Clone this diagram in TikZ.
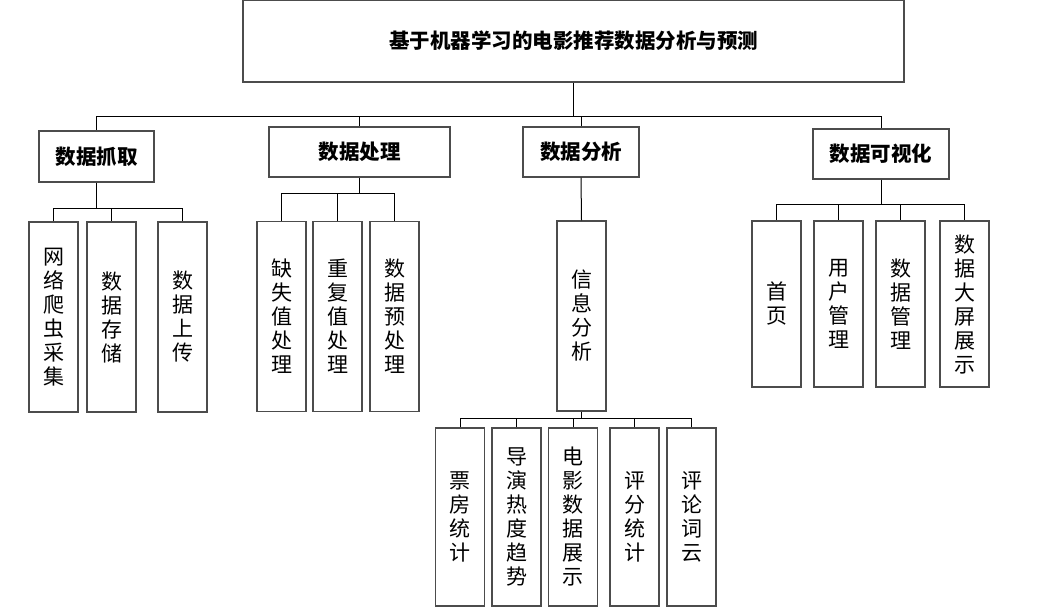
\documentclass[tikz,border=0pt]{standalone}
\usepackage{fontspec}
\newfontfamily\cjk{Noto Sans CJK SC}
\usetikzlibrary{positioning}

\begin{document}
\begin{tikzpicture}[x=1pt,y=-1pt,
  box/.style={draw=black!70,line width=1.2pt,inner sep=0pt,align=center,
    font=\cjk\fontsize{21}{24}\selectfont},
  hbox/.style={box,minimum height=50pt,font=\cjk\bfseries\fontsize{20.5}{24}\selectfont},
  vbox/.style={box,minimum width=49pt,minimum height=190pt},
  sbox/.style={box,minimum width=49pt,minimum height=166pt},
  lbox/.style={box,minimum width=49pt,minimum height=178pt},
  link/.style={black,line width=1pt}]
\useasboundingbox (0,0) rectangle (1041,608);
\node[hbox,minimum width=661pt,minimum height=82pt] (top) at (573.5,41) {\raisebox{3pt}{基于机器学习的电影推荐数据分析与预测}};
\node[hbox,minimum width=115pt,minimum height=51pt] (grab) at (96.5,156.5) {数据抓取};
\node[hbox,minimum width=181pt] (proc) at (359.5,152) {数据处理};
\node[hbox,minimum width=116pt] (anal) at (581,152) {数据分析};
\node[hbox,minimum width=136pt] (vis) at (881,154) {数据可视化};
\node[vbox] (crawl) at (53.5,317) {网\\络\\爬\\虫\\采\\集};
\node[vbox] (store) at (111.5,317) {数\\据\\存\\储};
\node[vbox] (upload) at (182.5,317) {数\\据\\上\\传};
\node[vbox] (miss) at (281.5,316.5) {缺\\失\\值\\处\\理};
\node[vbox] (dup) at (337.5,316.5) {重\\复\\值\\处\\理};
\node[vbox] (prep) at (394.5,316.5) {数\\据\\预\\处\\理};
\node[vbox] (info) at (581.5,316) {信\\息\\分\\析};
\node[sbox] (home) at (776.5,304) {首\\页};
\node[sbox] (user) at (838.5,304) {用\\户\\管\\理};
\node[sbox] (dmgr) at (900.5,304) {数\\据\\管\\理};
\node[sbox] (screen) at (964.5,304) {数\\据\\大\\屏\\展\\示};
\node[lbox] (box) at (460,517) {票\\房\\统\\计};
\node[lbox] (director) at (516.5,517) {导\\演\\热\\度\\趋\\势};
\node[lbox] (movie) at (573,517) {电\\影\\数\\据\\展\\示};
\node[lbox] (rating) at (634.5,517) {评\\分\\统\\计};
\node[lbox] (cloud) at (691.5,517) {评\\论\\词\\云};
\coordinate (j0) at (573.5,116);
\coordinate (j1) at (96.5,208);
\coordinate (j2) at (359.5,193);
\coordinate (j3) at (581.5,418);
\coordinate (j4) at (881,204);
\draw[link] (top.south) -- (j0);
\foreach \n in {grab,proc,anal,vis}
  \draw[link] (j0) -| (\n.north);
\draw[link] (grab.south) -- (j1);
\foreach \n in {crawl,store,upload}
  \draw[link] (j1) -| (\n.north);
\draw[link] (proc.south) -- (j2);
\foreach \n in {miss,dup,prep}
  \draw[link] (j2) -| (\n.north);
\draw[link] (anal.south) -- (info.north);
\draw[link] (info.south) -- (j3);
\foreach \n in {box,director,movie,rating,cloud}
  \draw[link] (j3) -| (\n.north);
\draw[link] (vis.south) -- (j4);
\foreach \n in {home,user,dmgr,screen}
  \draw[link] (j4) -| (\n.north);
\end{tikzpicture}
\end{document}
